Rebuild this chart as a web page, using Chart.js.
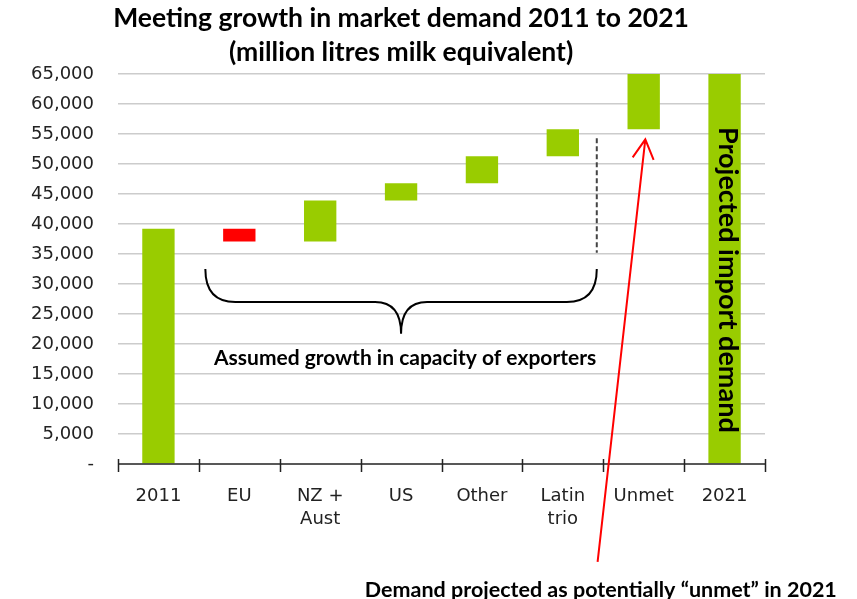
<!DOCTYPE html>
<html>
<head>
<meta charset="utf-8">
<title>Meeting growth in market demand 2011 to 2021</title>
<script src="https://cdn.jsdelivr.net/npm/chart.js@4/dist/chart.umd.min.js"></script>
<style>
    html, body { margin: 0; padding: 0; background: #fff; }
</style>
</head>
<body>
<canvas id="demandChart" width="857" height="599"></canvas>
<script>
// Categories and floating bar ranges (million litres milk equivalent)
const categories = [['2011'], ['EU'], ['NZ +', 'Aust'], ['US'], ['Other'], ['Latin', 'trio'], ['Unmet'], ['2021']];
const barStart = [0, 37100, 37100, 43900, 46800, 51300, 55800, 0];
const barEnd = [39200, 39200, 43900, 46800, 51300, 55800, 65000, 65000];

const yTickLabels = ['-', '5,000', '10,000', '15,000', '20,000', '25,000', '30,000',
    '35,000', '40,000', '45,000', '50,000', '55,000', '60,000', '65,000'];

const titleLines = ['Meeting growth in market demand 2011 to 2021', '(million litres milk equivalent)'];
const braceText = 'Assumed growth in capacity of exporters';
const arrowText = 'Demand projected as potentially \u201cunmet\u201d in 2021';
const barText = 'Projected import demand';

const GREEN = '#99CC00';
const RED = '#FF0000';
const BOLD_FONT = 'Lato, "Open Sans", sans-serif';

// Draws the title, the x axis and the annotations on top of the chart
const annotationPlugin = {
    id: 'annotations',
    afterDraw(chart) {
        const ctx = chart.ctx;
        const x = chart.scales.x;
        const y = chart.scales.y;
        const px = i => x.getPixelForValue(i);
        const py = v => y.getPixelForValue(v);
        const area = chart.chartArea;

        ctx.save();

        // title
        ctx.fillStyle = '#000';
        ctx.textAlign = 'center';
        ctx.textBaseline = 'middle';
        ctx.font = 'bold 26.5px ' + BOLD_FONT;
        ctx.fillText(titleLines[0], px(3), 18);
        ctx.fillText(titleLines[1], px(3), 52);

        // x axis line with tick marks between categories
        const y0 = py(0);
        ctx.strokeStyle = '#222';
        ctx.lineWidth = 1.5;
        ctx.beginPath();
        ctx.moveTo(area.left, y0);
        ctx.lineTo(area.right, y0);
        for (let i = 0; i <= categories.length; i++) {
            const tx = Math.round(px(i - 0.5)) + 0.5;
            ctx.moveTo(tx, y0 - 5);
            ctx.lineTo(tx, y0 + 8);
        }
        ctx.stroke();

        // curly brace under the exporter bars
        const left = px(0.58);
        const right = px(5.42);
        const mid = (left + right) / 2;
        const yTop = py(32500);
        const yMid = py(27000);
        const yTip = py(21700);
        ctx.strokeStyle = '#000';
        ctx.lineWidth = 2;
        ctx.beginPath();
        ctx.moveTo(left, yTop);
        ctx.quadraticCurveTo(left, yMid, left + 30, yMid);
        ctx.lineTo(mid - 26, yMid);
        ctx.quadraticCurveTo(mid, yMid, mid, yTip);
        ctx.quadraticCurveTo(mid, yMid, mid + 26, yMid);
        ctx.lineTo(right - 30, yMid);
        ctx.quadraticCurveTo(right, yMid, right, yTop);
        ctx.stroke();

        ctx.font = 'bold 21px ' + BOLD_FONT;
        ctx.fillText(braceText, px(3.05), py(17700));

        // dashed vertical marker
        ctx.strokeStyle = '#444';
        ctx.lineWidth = 2;
        ctx.setLineDash([5, 3]);
        ctx.beginPath();
        ctx.moveTo(right, py(54300));
        ctx.lineTo(right, py(35200));
        ctx.stroke();
        ctx.setLineDash([]);

        // red arrow pointing at the unmet bar
        const tipX = px(6.02), tipY = py(54100);
        const tailX = px(5.43), tailY = py(-16300);
        const ang = Math.atan2(tailY - tipY, tailX - tipX);
        ctx.strokeStyle = RED;
        ctx.lineWidth = 2;
        ctx.beginPath();
        ctx.moveTo(tailX, tailY);
        ctx.lineTo(tipX, tipY);
        ctx.moveTo(tipX + 22 * Math.cos(ang - 0.5), tipY + 22 * Math.sin(ang - 0.5));
        ctx.lineTo(tipX, tipY);
        ctx.lineTo(tipX + 22 * Math.cos(ang + 0.5), tipY + 22 * Math.sin(ang + 0.5));
        ctx.stroke();

        ctx.fillStyle = '#000';
        ctx.font = 'bold 21.5px ' + BOLD_FONT;
        ctx.fillText(arrowText, px(5.47), chart.height - 9);

        // rotated label on the 2021 bar
        ctx.translate(px(7.04), py(30700));
        ctx.rotate(Math.PI / 2);
        ctx.font = 'bold 27px ' + BOLD_FONT;
        ctx.fillText(barText, 0, 0);

        ctx.restore();
    }
};

function createChart() {
    const ctx = document.getElementById('demandChart').getContext('2d');
    const ranges = barStart.map((start, i) => [start, barEnd[i]]);

    new Chart(ctx, {
        type: 'bar',
        data: {
            labels: categories,
            datasets: [{
                data: ranges,
                // EU is the only category that shrinks
                backgroundColor: categories.map((c, i) => i === 1 ? RED : GREEN),
                borderWidth: 0,
                barPercentage: 0.4,
                categoryPercentage: 1
            }]
        },
        options: {
            responsive: false,
            animation: false,
            layout: {
                padding: { top: 74, right: 92, bottom: 0, left: 0 }
            },
            plugins: {
                legend: { display: false },
                title: { display: false },
                tooltip: { enabled: false }
            },
            scales: {
                x: {
                    grid: { display: false },
                    border: { display: false },
                    ticks: {
                        color: '#222',
                        padding: 13,
                        maxRotation: 0,
                        autoSkip: false,
                        font: { family: '"DejaVu Sans", Verdana, sans-serif', size: 18, lineHeight: 1.28 }
                    },
                    afterFit: scale => { scale.height = 135; }
                },
                y: {
                    min: 0,
                    max: 65000,
                    grid: {
                        drawTicks: false,
                        color: ctx => ctx.index === 0 ? 'rgba(0,0,0,0)' : '#cccccc',
                        lineWidth: 1.5
                    },
                    border: { display: false },
                    ticks: {
                        stepSize: 5000,
                        padding: 24,
                        color: '#222',
                        font: { family: '"DejaVu Sans", Verdana, sans-serif', size: 18 },
                        callback: (value, index) => yTickLabels[index]
                    },
                    afterFit: scale => { scale.width = 118; }
                }
            }
        },
        plugins: [annotationPlugin]
    });
}

createChart();
</script>
</body>
</html>
